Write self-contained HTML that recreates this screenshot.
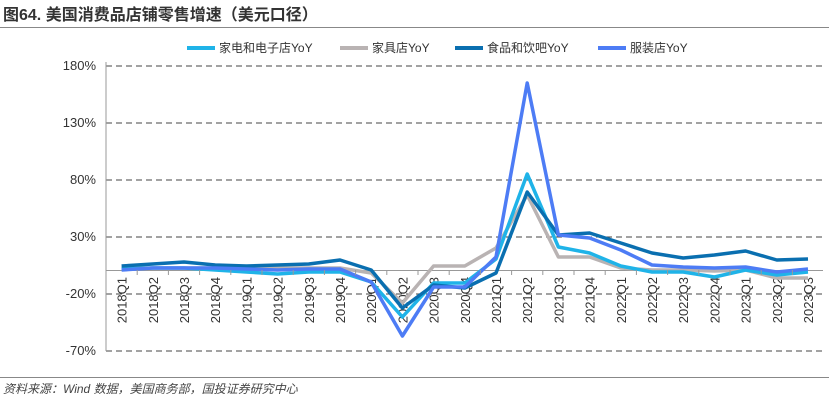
<!DOCTYPE html>
<html><head><meta charset="utf-8"><style>
body{margin:0;background:#fff;width:829px;height:404px;overflow:hidden}
svg{display:block}
</style></head><body>
<svg width="829" height="404" xmlns="http://www.w3.org/2000/svg" font-family="'Liberation Sans','Noto Sans CJK SC',sans-serif">
<text x="3" y="20" font-size="16" font-weight="bold" fill="#333">图64. 美国消费品店铺零售增速（美元口径）</text>
<line x1="0" y1="27.5" x2="829" y2="27.5" stroke="#888" stroke-width="1"/>
<line x1="0" y1="377.5" x2="829" y2="377.5" stroke="#888" stroke-width="1"/>
<text x="3" y="393" font-size="12" font-style="italic" fill="#444">资料来源：Wind 数据，美国商务部，国投证券研究中心</text>
<g font-size="12" fill="#333">
<line x1="187" y1="48" x2="215" y2="48" stroke="#1fb3e8" stroke-width="4"/><text x="219" y="52">家电和电子店YoY</text>
<line x1="340" y1="48" x2="368" y2="48" stroke="#b9b3b3" stroke-width="4"/><text x="372" y="52">家具店YoY</text>
<line x1="455" y1="48" x2="483" y2="48" stroke="#0a6fb0" stroke-width="4"/><text x="487" y="52">食品和饮吧YoY</text>
<line x1="598" y1="48" x2="626" y2="48" stroke="#4d7cf5" stroke-width="4"/><text x="630" y="52">服装店YoY</text>
</g>
<g stroke="#444" stroke-dasharray="6,4" stroke-width="1">
<line x1="106" y1="66" x2="823" y2="66"/><line x1="106" y1="123" x2="823" y2="123"/>
<line x1="106" y1="180" x2="823" y2="180"/><line x1="106" y1="237" x2="823" y2="237"/>
<line x1="106" y1="294" x2="823" y2="294"/><line x1="106" y1="351" x2="823" y2="351"/>
</g>
<g font-size="13" fill="#333" text-anchor="end">
<text x="96" y="70">180%</text><text x="96" y="127">130%</text><text x="96" y="184">80%</text>
<text x="96" y="241">30%</text><text x="96" y="298">-20%</text><text x="96" y="355">-70%</text>
</g>
<line x1="106" y1="62" x2="106" y2="351" stroke="#999"/>
<line x1="106" y1="270.5" x2="823" y2="270.5" stroke="#999"/>
<g id="lbl" font-size="13" fill="#333" text-anchor="end"></g>
<g fill="none" stroke-width="3.5" stroke-linejoin="round" id="ser"></g>
</svg>
<script>
var ns="http://www.w3.org/2000/svg";
var cats=[];for(var y=2018;y<=2023;y++)for(var q=1;q<=4;q++){if(y==2023&&q==4)break;cats.push(y+"Q"+q);}
function X(i){return 121.6+i*31.2;}
var L=document.getElementById("lbl");
var ax=document.querySelector("svg");
cats.forEach(function(c,i){
 var t=document.createElementNS(ns,"text");var x=X(i)+5,y=277;
 t.setAttribute("x",x);t.setAttribute("y",y);t.setAttribute("transform","rotate(-90 "+x+" "+y+")");t.textContent=c;L.appendChild(t);
 var tk=document.createElementNS(ns,"line");var tx=106+i*31.2;
 tk.setAttribute("x1",tx);tk.setAttribute("x2",tx);tk.setAttribute("y1",270);tk.setAttribute("y2",275);tk.setAttribute("stroke","#999");ax.appendChild(tk);
});
var S=[
["#b9b3b3",[268,268,268,268,268,268,268,268,273,303,266,266,248,195,257,257,268,270,270,271,270,278,278]],
["#1fb3e8",[269,268,268,270,272,274,272,272,282,317,283,283,259,174,247,253,266,272,272,277,270,275,272]],
["#0a6fb0",[266,264,262,265,266,265,264,260,270,308,285,288,273,192,235,233,243,253,258,255,251,260,259]],
["#4d7cf5",[270,268,268,268,269,270,269,269,282,336,287,287,257,83,235,238,250,265,267,268,267,272,269]]
];
var G=document.getElementById("ser");
S.forEach(function(s){var p=document.createElementNS(ns,"polyline");
p.setAttribute("points",s[1].map(function(v,i){return X(i)+","+v}).join(" "));p.setAttribute("stroke",s[0]);G.appendChild(p);});
</script>
</body></html>
